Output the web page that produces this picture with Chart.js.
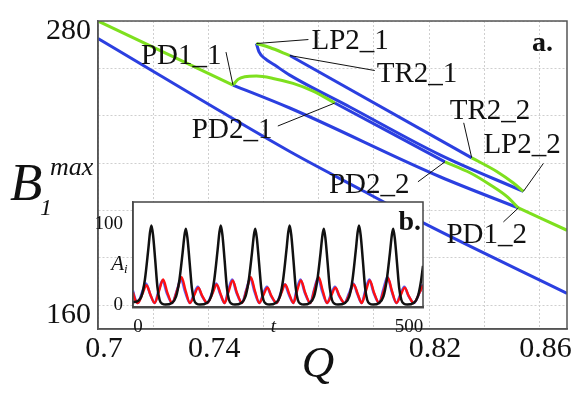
<!DOCTYPE html>
<html lang="en">
<head>
<meta charset="utf-8">
<title>Bifurcation diagram</title>
<script src="https://cdn.jsdelivr.net/npm/chart.js"></script>
<style>
  body { margin: 0; background: #fff; }
  .wrap { position: relative; width: 581px; height: 399px; }
  #mainChart { position: absolute; left: 0; top: 0; }
  #insetChart { position: absolute; left: 95px; top: 195px; }
</style>
</head>
<body>
<div class="wrap">
  <canvas id="mainChart" width="581" height="399"></canvas>
  <canvas id="insetChart" width="340" height="140"></canvas>
</div>
<script>
// ---- main diagram (Q, B1max) ----
const qTicks = [0.70, 0.72, 0.74, 0.76, 0.78, 0.80, 0.82, 0.84, 0.86];
const qTickLabels = ['0.7', '', '0.74', '', '', '', '0.82', '', '0.86'];
const bTicks = [160, 180, 200, 220, 240, 260, 280];
const bTickLabels = ['160', '', '', '', '', '', '280'];

// period-1 branch
const p1GreenAQ = [0.7, 0.74893];
const p1GreenAB = [280, 252.95];
const p1BlueQ = [0.74893, 0.76951, 0.82396, 0.85238];
const p1BlueB = [252.95, 243.28, 214.26, 201.09];
const p1GreenBQ = [0.85238, 0.87];
const p1GreenBB = [201.09, 191.67];

// period-2 branch between PD1_1 and PD1_2
const p2GreenAQ = [0.74893, 0.75074, 0.75318, 0.75742, 0.76345, 0.77071, 0.77797, 0.78584];
const p2GreenAB = [252.95, 255.35, 256.45, 256.74, 255.77, 253.67, 250.43, 245.38];
const p2BlueQ = [0.78584, 0.82576];
const p2BlueB = [245.38, 220.57];
const p2GreenBQ = [0.82576, 0.83485, 0.84211, 0.84817, 0.85238];
const p2GreenBB = [220.57, 215.94, 210.89, 205.97, 201.09];

// isola LP2_1 .. LP2_2
const loopGreenAQ = [0.75742, 0.76225, 0.76951];
const loopGreenAB = [270.49, 268.81, 265.43];
const loopBlueQ = [0.76951, 0.83546];
const loopBlueB = [265.43, 222.25];
const loopGreenBQ = [0.83546, 0.84454, 0.85056, 0.85419];
const loopGreenBB = [222.25, 216.49, 211.61, 208.08];
const loopLowQ = [0.75742, 0.75837, 0.76044, 0.76407, 0.76951, 0.79129, 0.82396, 0.85419];
const loopLowB = [270.49, 266.96, 264.18, 261.38, 257.16, 243.70, 223.51, 208.08];

// lower branch
const lowQ = [0.7, 0.76951, 0.796, 0.8179, 0.87];
const lowB = [272.6, 224.9, 208.37, 194.78, 165.05];

// ---- inset: time series ----
const tTicks = [0, 250, 500];
const tTickLabels = ['0', 't', '500'];
const aTicks = [0, 50, 100];
const aTickLabels = ['0', '', '100'];

const blackT = [0, 8, 16, 22, 28, 31.5, 34, 37, 41, 45, 49, 54, 60,
  71.5, 79.5, 85.5, 91.5, 95, 97.5, 100.5, 104.5, 108.5, 112.5, 117.5, 123.5,
  136, 144, 150, 156, 159.5, 162, 165, 169, 173, 177, 182, 188,
  199.5, 207.5, 213.5, 219.5, 223, 225.5, 228.5, 232.5, 236.5, 240.5, 245.5, 251.5,
  263, 271, 277, 283, 286.5, 289, 292, 296, 300, 304, 309, 315,
  326, 334, 340, 346, 349.5, 352, 355, 359, 363, 367, 372, 378,
  391, 399, 405, 411, 414.5, 417, 420, 424, 428, 432, 437, 443,
  454, 462, 468, 474, 477.5, 480, 483, 487, 491, 495, 500, 506,
  517.5, 525.5, 531.5, 535];
const blackA = [3, 4, 11, 31, 67, 90, 98, 86, 55, 22, 6, 1, 0,
  2, 10, 30, 64, 86, 94, 82, 52, 21, 6, 1, 0,
  2, 10, 31, 67, 90, 98, 86, 55, 22, 6, 1, 0,
  2, 10, 30, 64, 86, 94, 82, 52, 21, 6, 1, 0,
  2, 10, 31, 67, 90, 98, 86, 55, 22, 6, 1, 0,
  2, 10, 30, 64, 86, 94, 82, 52, 21, 6, 1, 0,
  2, 10, 31, 67, 90, 98, 86, 55, 22, 6, 1, 0,
  2, 10, 30, 64, 86, 94, 82, 52, 21, 6, 1, 0,
  2, 10, 30, 48];

const redT = [0, 4, 9, 17.3, 24.8, 32.3, 40, 48.1, 55.6, 63.1, 72, 82.1, 89.6, 97.1, 105,
  112.9, 120.4, 127.9, 137, 146.9, 154.4, 161.9, 169, 176.5, 184, 191.5, 201, 209.9, 217.4, 224.9, 233,
  240.5, 248, 255.5, 265, 273.5, 281, 288.5, 296, 302.5, 310, 317.5, 327, 335.1, 342.6, 350.1, 358,
  366, 373.5, 381, 390, 399.9, 407.4, 414.9, 422, 429.5, 437, 444.5, 454, 462.9, 470.4, 477.9, 486,
  493.8, 501.3, 508.8, 518, 528, 535];
const redA = [15, 6, 2, 13, 24, 12, 2, 17, 31, 15.5, 2, 19, 34, 17, 2,
  11.5, 21, 10.5, 2, 14, 25, 12.5, 2, 16.5, 30, 15, 2, 19, 34, 17, 2,
  11.5, 21, 10.5, 2, 14, 25, 12.5, 2, 16.5, 30, 15, 2, 19, 34, 17, 2,
  11.5, 21, 10.5, 2, 14, 25, 12.5, 2, 16.5, 30, 15, 2, 18, 33, 16.5, 2,
  11.5, 21, 10.5, 2, 14, 24];

const blueT = [0, 4, 9, 16.5, 24, 31.5, 40, 47, 54.5, 62, 72, 81, 88.5, 96, 105,
  112, 119.5, 127, 137, 146, 153.5, 161, 169, 175.5, 183, 190.5, 201, 209, 216.5, 224, 233,
  239.5, 247, 254.5, 265, 272.5, 280, 287.5, 296, 301.5, 309, 316.5, 327, 334, 341.5, 349, 358,
  365, 372.5, 380, 390, 399, 406.5, 414, 422, 428.5, 436, 443.5, 454, 462, 469.5, 477, 486,
  493, 500.5, 508, 518, 528, 535];
const blueA = [17, 7, 2, 14.5, 26, 13, 2, 16.5, 30, 15, 2, 17.5, 32, 16, 2,
  12, 22, 11, 2, 14.5, 26, 13, 2, 17, 31, 15.5, 2, 18, 33, 16.5, 2,
  12, 22, 11, 2, 14, 25, 12.5, 2, 17, 31, 15.5, 2, 18, 33, 16.5, 2,
  12, 22, 11, 2, 14.5, 26, 13, 2, 17, 31, 15.5, 2, 19, 34, 17, 2,
  12, 22, 11, 2, 14, 25];

const BLUE = '#2b3fe0';
const GREEN = '#7ee01e';
const SERIF = '"Liberation Serif", "Times New Roman", serif';

Chart.defaults.font.family = SERIF;
Chart.defaults.color = '#111';

const pts = (xs, ys) => xs.map((x, i) => ({ x: x, y: ys[i] }));

function curve(xs, ys, color, width) {
    return {
        data: pts(xs, ys),
        borderColor: color,
        borderWidth: width,
        showLine: true,
        pointRadius: 0,
        cubicInterpolationMode: 'monotone',
        fill: false
    };
}

// keep the plot box where the layout padding puts it
function noLabelPadding(s) {
    s.paddingTop = 0;
    s.paddingBottom = 0;
    s.paddingLeft = 0;
    s.paddingRight = 0;
}

// labels of the bifurcation points: pixel offsets from the point
const bifLabels = [
    { text: 'PD1_1', q: p1BlueQ[0], b: p1BlueB[0], dx: -92, dy: -21, lx: -7, ly: -33 },
    { text: 'LP2_1', q: loopLowQ[0], b: loopLowB[0], dx: 55, dy: 5, lx: 52, ly: -4 },
    { text: 'TR2_1', q: loopBlueQ[0], b: loopBlueB[0], dx: 87, dy: 26, lx: 85, ly: 15 },
    { text: 'TR2_2', q: loopBlueQ[1], b: loopBlueB[1], dx: -22, dy: -39, lx: -8, ly: -35 },
    { text: 'LP2_2', q: loopGreenBQ[3], b: loopGreenBB[3], dx: -40, dy: -38, lx: 20, ly: -28 },
    { text: 'PD2_2', q: p2BlueQ[1], b: p2BlueB[1], dx: -116, dy: 31, lx: -27, ly: 20 },
    { text: 'PD2_1', q: p2BlueQ[0], b: p2BlueB[0], dx: -143, dy: 35, lx: -57, ly: 23 },
    { text: 'PD1_2', q: p1GreenBQ[0], b: p1GreenBB[0], dx: -72, dy: 35, lx: -15, ly: 14 }
];

const mainDecor = {
    id: 'mainDecor',
    afterDraw(chart) {
        const { ctx, chartArea: a, scales: { x, y } } = chart;
        ctx.save();
        ctx.strokeStyle = '#555';
        ctx.lineWidth = 1.5;
        ctx.strokeRect(a.left, a.top, a.right - a.left, a.bottom - a.top);

        ctx.fillStyle = '#111';
        ctx.strokeStyle = '#111';
        ctx.lineWidth = 1;
        ctx.font = '29px ' + SERIF;
        ctx.textBaseline = 'alphabetic';
        bifLabels.forEach(l => {
            const px = x.getPixelForValue(l.q);
            const py = y.getPixelForValue(l.b);
            ctx.beginPath();
            ctx.moveTo(px, py);
            ctx.lineTo(px + l.lx, py + l.ly);
            ctx.stroke();
            ctx.fillText(l.text, px + l.dx, py + l.dy);
        });

        ctx.font = 'bold 28px ' + SERIF;
        ctx.fillText('a.', a.right - 35, a.top + 30);

        // axis titles
        ctx.font = 'italic 45px ' + SERIF;
        ctx.textAlign = 'center';
        ctx.fillText('Q', 318, 377);
        ctx.textAlign = 'left';
        ctx.font = 'italic 53px ' + SERIF;
        ctx.fillText('B', 10, 200);
        ctx.font = 'italic 24px ' + SERIF;
        ctx.fillText('1', 40, 215);
        ctx.font = 'italic 26px ' + SERIF;
        ctx.fillText('max', 50, 175);
        ctx.restore();
    }
};

new Chart(document.getElementById('mainChart'), {
    type: 'scatter',
    data: {
        datasets: [
            curve(p1GreenAQ, p1GreenAB, GREEN, 3),
            curve(p1GreenBQ, p1GreenBB, GREEN, 3),
            curve(p2GreenAQ, p2GreenAB, GREEN, 3),
            curve(p2GreenBQ, p2GreenBB, GREEN, 3),
            curve(loopGreenAQ, loopGreenAB, GREEN, 3),
            curve(loopGreenBQ, loopGreenBB, GREEN, 3),
            curve(p1BlueQ, p1BlueB, BLUE, 3),
            curve(p2BlueQ, p2BlueB, BLUE, 3),
            curve(loopBlueQ, loopBlueB, BLUE, 3),
            curve(loopLowQ, loopLowB, BLUE, 3),
            curve(lowQ, lowB, BLUE, 3)
        ]
    },
    options: {
        responsive: false,
        animation: false,
        layout: { padding: { top: 21, right: 14, left: 0, bottom: 0 } },
        plugins: { legend: { display: false }, tooltip: { enabled: false } },
        scales: {
            x: {
                type: 'linear',
                min: 0.7,
                max: 0.87,
                afterBuildTicks: s => { s.ticks = qTicks.map(v => ({ value: v })); },
                afterFit: s => { s.height = 70; noLabelPadding(s); },
                ticks: {
                    autoSkip: false,
                    maxRotation: 0,
                    padding: 2,
                    labelOffset: 6,
                    font: { size: 30 },
                    callback: (v, i) => qTickLabels[i]
                },
                grid: { color: '#cfcfcf', lineWidth: 1, drawTicks: false },
                border: { color: '#555', width: 1.5, dash: [2, 2] }
            },
            y: {
                type: 'linear',
                min: 150,
                max: 280,
                afterBuildTicks: s => { s.ticks = bTicks.map(v => ({ value: v })); },
                afterFit: s => { s.width = 98; noLabelPadding(s); },
                ticks: {
                    autoSkip: false,
                    padding: 7,
                    labelOffset: 10,
                    font: { size: 30 },
                    callback: (v, i) => bTickLabels[i]
                },
                grid: { color: '#cfcfcf', lineWidth: 1, drawTicks: false },
                border: { color: '#555', width: 1.5, dash: [2, 2] }
            }
        }
    },
    plugins: [mainDecor]
});

// ---- inset ----
const insetDecor = {
    id: 'insetDecor',
    beforeDraw(chart) {
        const { ctx, chartArea: a } = chart;
        ctx.save();
        ctx.fillStyle = '#fff';
        ctx.fillRect(a.left, a.top, a.right - a.left, a.bottom - a.top);
        ctx.restore();
    },
    afterDraw(chart) {
        const { ctx, chartArea: a, scales: { y } } = chart;
        ctx.save();
        ctx.strokeStyle = '#444';
        ctx.lineWidth = 1.5;
        ctx.strokeRect(a.left, a.top, a.right - a.left, a.bottom - a.top);
        ctx.fillStyle = '#111';
        ctx.font = 'bold 28px ' + SERIF;
        ctx.textAlign = 'right';
        ctx.fillText('b.', a.right - 2, a.top + 28);
        const yMid = y.getPixelForValue(50);
        ctx.font = 'italic 21px ' + SERIF;
        ctx.fillText('A', a.left - 9, yMid + 6);
        ctx.font = 'italic 13px ' + SERIF;
        ctx.textAlign = 'left';
        ctx.fillText('i', a.left - 9, yMid + 9);
        ctx.restore();
    }
};

new Chart(document.getElementById('insetChart'), {
    type: 'scatter',
    data: {
        datasets: [
            curve(blackT, blackA, '#111', 2.5),
            curve(redT, redA, '#ff1010', 2.4),
            curve(blueT, blueA, '#5560ff', 2.6)
        ]
    },
    options: {
        responsive: false,
        animation: false,
        layout: { padding: { top: 7, right: 12, left: 0, bottom: 0 } },
        plugins: { legend: { display: false }, tooltip: { enabled: false } },
        scales: {
            x: {
                type: 'linear',
                min: 0,
                max: 535,
                afterBuildTicks: s => { s.ticks = tTicks.map(v => ({ value: v })); },
                afterFit: s => { s.height = 28; noLabelPadding(s); },
                ticks: {
                    autoSkip: false,
                    maxRotation: 0,
                    padding: 1,
                    labelOffset: 5,
                    font: c => ({ size: 19, style: c.index === 1 ? 'italic' : 'normal' }),
                    callback: (v, i) => tTickLabels[i]
                },
                grid: { display: false },
                border: { color: '#555', width: 2.5 }
            },
            y: {
                type: 'linear',
                min: -3,
                max: 127,
                afterBuildTicks: s => { s.ticks = aTicks.map(v => ({ value: v })); },
                afterFit: s => { s.width = 38; noLabelPadding(s); },
                ticks: {
                    autoSkip: false,
                    padding: 2,
                    font: { size: 19 },
                    callback: (v, i) => aTickLabels[i]
                },
                grid: { display: false },
                border: { color: '#555', width: 1.5 }
            }
        }
    },
    plugins: [insetDecor]
});
</script>
</body>
</html>
